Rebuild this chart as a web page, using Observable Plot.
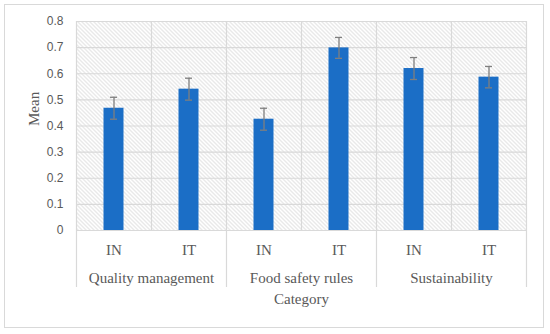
<!DOCTYPE html>
<html>
<head>
<meta charset="utf-8">
<script src="https://cdn.jsdelivr.net/npm/d3@7"></script>
<script src="https://cdn.jsdelivr.net/npm/@observablehq/plot@0.6"></script>
<style>
  body { margin: 0; background: #fff; }
  #wrap { position: relative; width: 550px; height: 334px; }
  #border { position: absolute; left: 4px; top: 4px; width: 538px; height: 322px; border: 1.5px solid #d9d9d9; pointer-events: none; }
</style>
</head>
<body>
<div id="wrap"><div id="border"></div></div>
<script>
const categories = ["Quality management", "Food safety rules", "Sustainability"];
const regions = ["IN", "IT", "IN", "IT", "IN", "IT"];
const means = [0.468, 0.541, 0.426, 0.699, 0.620, 0.587];
const errors = [0.042, 0.042, 0.042, 0.040, 0.042, 0.041];
const yTicks = [0, 0.1, 0.2, 0.3, 0.4, 0.5, 0.6, 0.7, 0.8];
const yTickLabels = ["0", "0.1", "0.2", "0.3", "0.4", "0.5", "0.6", "0.7", "0.8"];

const rows = regions.map((r, i) => ({i, region: r, category: categories[Math.floor(i / 2)], mean: means[i], err: errors[i]}));
const barHalf = 0.1333;
const capHalf = 0.047;
const serif = "Liberation Serif";
const grey = "#595959";

const chart = Plot.plot({
  width: 550,
  height: 334,
  marginLeft: 76,
  marginRight: 24,
  marginTop: 21,
  marginBottom: 104,
  style: {fontFamily: serif, background: "transparent"},
  x: {type: "linear", domain: [0, regions.length], axis: null},
  y: {domain: [0, 0.8], axis: null},
  marks: [
    Plot.frame({fill: "url(#hatch)", stroke: null}),
    Plot.ruleY(yTicks, {stroke: "#d9d9d9", strokeWidth: 1.2}),
    Plot.ruleX(d3.range(1, regions.length, 2), {stroke: "#d9d9d9", strokeWidth: 1.2}),
    Plot.ruleX(d3.range(0, regions.length + 1, 2), {stroke: "#d9d9d9", strokeWidth: 1.2, insetBottom: -57}),
    Plot.rectY(rows, {x1: d => d.i + 0.5 - barHalf, x2: d => d.i + 0.5 + barHalf, y1: 0, y2: "mean", fill: "#1b6ec6"}),
    Plot.ruleX(rows, {x: d => d.i + 0.5, y1: d => d.mean - d.err, y2: d => d.mean + d.err, stroke: "#7f7f7f", strokeWidth: 1.3}),
    Plot.ruleY(rows, {y: d => d.mean + d.err, x1: d => d.i + 0.5 - capHalf, x2: d => d.i + 0.5 + capHalf, stroke: "#7f7f7f", strokeWidth: 1.3}),
    Plot.ruleY(rows, {y: d => d.mean - d.err, x1: d => d.i + 0.5 - capHalf, x2: d => d.i + 0.5 + capHalf, stroke: "#7f7f7f", strokeWidth: 1.3}),
    Plot.axisY({ticks: yTicks, tickFormat: d => yTickLabels[yTicks.indexOf(d)], tickSize: 0, tickPadding: 13, fontSize: 12, fontFamily: "Liberation Sans", fill: grey, label: null}),
    Plot.text(rows, {x: d => d.i + 0.5, text: "region", frameAnchor: "bottom", dy: 24, fontSize: 15, fill: grey}),
    Plot.text(categories, {x: (d, i) => 2 * i + 1, text: d => d, frameAnchor: "bottom", dy: 52, fontSize: 15, fill: grey}),
    Plot.text(["Category"], {x: regions.length / 2, text: d => d, frameAnchor: "bottom", dy: 73, fontSize: 15, fill: grey}),
    Plot.text(["Mean"], {text: d => d, frameAnchor: "left", dx: -42, rotate: -90, fontSize: 15, fill: grey})
  ]
});

const ns = "http://www.w3.org/2000/svg";
const defs = document.createElementNS(ns, "defs");
defs.innerHTML = '<pattern id="hatch" patternUnits="userSpaceOnUse" width="4" height="4"><rect width="4" height="4" fill="#ffffff"/><path d="M-1,-1 L5,5 M3,-1 L5,1 M-1,3 L1,5" stroke="#cdcdcd" stroke-width="0.9"/></pattern>';
chart.insertBefore(defs, chart.firstChild);
document.getElementById("wrap").insertBefore(chart, document.getElementById("border"));
</script>
</body>
</html>
